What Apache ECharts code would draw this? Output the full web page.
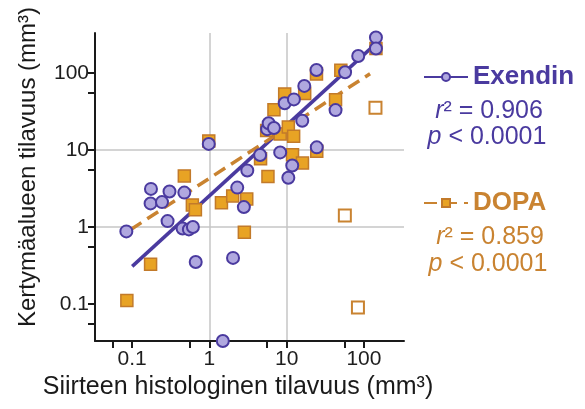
<!DOCTYPE html>
<html><head><meta charset="utf-8">
<script src="https://cdn.jsdelivr.net/npm/echarts@6/dist/echarts.min.js"></script>
<style>html,body{margin:0;padding:0;background:#fff}#c{width:585px;height:409px}</style>
</head><body><div id="c"></div>
<script>
// ---- data ----
const exendinX = [0.084, 0.175, 0.173, 0.243, 0.287, 0.304, 0.473, 0.449, 0.542, 0.611, 0.664, 0.98, 1.49, 2.02, 2.29, 2.79, 3.09, 4.53, 5.58, 5.84, 6.84, 8.24, 9.42, 10.5, 11.8, 12.4, 15.9, 16.9, 24.3, 24.5, 42.9, 57.0, 84.3, 143, 143];
const exendinY = [0.875, 3.12, 2.02, 2.10, 1.19, 2.89, 2.79, 0.956, 0.928, 1.0, 0.351, 11.97, 0.033, 0.396, 3.24, 1.81, 5.40, 8.61, 18.6, 22.2, 19.3, 9.28, 40.4, 4.35, 6.29, 45.3, 23.9, 67.8, 109, 10.8, 32.9, 102, 166, 289, 208];
const dopaX = [0.0853, 0.173, 0.473, 0.601, 0.658, 0.98, 1.43, 2.0, 2.83, 3.04, 4.59, 5.50, 5.72, 6.84, 8.24, 9.42, 10.5, 12.3, 11.9, 16.0, 17.1, 24.3, 24.5, 42.9, 50.2, 143];
const dopaY = [0.111, 0.328, 4.60, 1.93, 1.67, 13.1, 2.06, 2.53, 0.853, 2.30, 7.69, 17.9, 4.53, 33.3, 16.1, 53.4, 19.8, 15.1, 8.66, 6.74, 54.2, 97.0, 9.64, 45.0, 108, 208];
const dopaOutX = [141, 56.6, 83.6];
const dopaOutY = [35.3, 1.41, 0.090];
const exendinFitX = [0.1, 143];
const exendinFitY = [0.307, 240];
const dopaFitX = [0.095, 120];
const dopaFitY = [0.92, 97.7];
const majorTicks = [0.1, 1, 10, 100];
const minorTicks = [0.056, 0.56, 5.6, 56];
const axisMin = 0.033, axisMax = 330;
const seriesNames = ['Exendin', 'DOPA'];
const statsExendin = ['0.906', '0.0001'];
const statsDopa = ['0.859', '0.0001'];
const xTitle = 'Siirteen histologinen tilavuus (mm³)';
const yTitle = 'Kertymäalueen tilavuus (mm³)';

const zip = (a, b) => a.map((v, i) => [v, b[i]]);
const FONT = '"Liberation Sans", Arial, Helvetica, sans-serif';
const PURPLE = '#4a3a9f', PURPLE_FILL = '#b0a8df';
const ORANGE = '#c98331', ORANGE_FILL = '#e8a324', ORANGE_EDGE = '#c27a2a';
const AXIS = '#1a1a1a';

function mainAxis(extra) {
  return Object.assign({
    type: 'log', logBase: 10, min: axisMin, max: axisMax,
    axisLine: { show: true, onZero: false, lineStyle: { color: AXIS, width: 2 } },
    axisTick: { show: true, customValues: majorTicks.concat(minorTicks), length: 7, lineStyle: { color: AXIS, width: 2 } },
    axisLabel: { customValues: majorTicks, fontSize: 21, fontFamily: FONT, color: '#1e1e1e',
      formatter: v => String(+(+v).toPrecision(3)) },
    splitLine: { show: false }
  }, extra);
}
function gridAxis(extra) {
  return Object.assign({
    type: 'log', logBase: 10, min: axisMin, max: axisMax,
    axisLine: { show: false }, axisLabel: { show: false },
    axisTick: { show: false, customValues: majorTicks },
    splitLine: { show: true, showMinLine: false, showMaxLine: false, lineStyle: { color: '#c6c6c6', width: 1.5 } }
  }, extra);
}
function stat(prefix, rest, x, y, color) {
  return { type: 'text', x: x, y: y,
    style: { text: '{i|' + prefix + '}' + rest,
      rich: { i: { fontStyle: 'italic', fontSize: 25, fontFamily: FONT, fill: color } },
      fontSize: 25, fontFamily: FONT, fill: color, align: 'center', verticalAlign: 'middle' } };
}

const chart = echarts.init(document.getElementById('c'), null, { renderer: 'canvas' });
chart.setOption({
  animation: false,
  backgroundColor: '#fff',
  grid: { left: 95, right: 181, top: 33, bottom: 68 },
  xAxis: [mainAxis({ position: 'bottom', axisLabel: Object.assign({}, mainAxis().axisLabel, { margin: 8 }) }), gridAxis({ position: 'bottom' })],
  yAxis: [mainAxis({ position: 'left', axisLabel: Object.assign({}, mainAxis().axisLabel, { margin: 6 }) }), gridAxis({ position: 'left' })],
  legend: [
    { data: [{ name: seriesNames[0], textStyle: { color: PURPLE } }], left: 423, top: 64, padding: 0,
      itemWidth: 44, itemHeight: 10, itemGap: 6, selectedMode: false,
      textStyle: { fontSize: 26, fontWeight: 'bold', fontFamily: FONT } },
    { data: [{ name: seriesNames[1], textStyle: { color: ORANGE } }], left: 423, top: 190, padding: 0,
      itemWidth: 44, itemHeight: 10, itemGap: 6, selectedMode: false,
      textStyle: { fontSize: 26, fontWeight: 'bold', fontFamily: FONT } }
  ],
  series: [
    { name: seriesNames[0], type: 'line', data: zip(exendinFitX, exendinFitY), showSymbol: false,
      symbol: 'circle', symbolSize: 9, silent: true, z: 2,
      lineStyle: { color: PURPLE, width: 3.5 },
      itemStyle: { color: PURPLE_FILL, borderColor: PURPLE, borderWidth: 1.5 } },
    { name: seriesNames[1], type: 'line', data: zip(dopaFitX, dopaFitY), showSymbol: false,
      symbol: 'rect', symbolSize: 9, silent: true, z: 2,
      lineStyle: { color: ORANGE, width: 3.5, type: [13, 7] },
      itemStyle: { color: ORANGE_FILL, borderColor: ORANGE_EDGE, borderWidth: 1.5 } },
    { name: seriesNames[1], type: 'scatter', data: zip(dopaX, dopaY), symbol: 'rect', symbolSize: 12,
      clip: false, z: 3, itemStyle: { color: ORANGE_FILL, borderColor: ORANGE_EDGE, borderWidth: 1.5, opacity: 1 } },
    { name: 'DOPA (outliers)', type: 'scatter', data: zip(dopaOutX, dopaOutY), symbol: 'rect', symbolSize: 12,
      clip: false, z: 3, itemStyle: { color: '#fff', borderColor: ORANGE, borderWidth: 2, opacity: 1 } },
    { name: seriesNames[0], type: 'scatter', data: zip(exendinX, exendinY), symbol: 'circle', symbolSize: 12,
      clip: false, z: 4, itemStyle: { color: PURPLE_FILL, borderColor: PURPLE, borderWidth: 2, opacity: 1 } }
  ],
  graphic: [
    { type: 'text', x: 28, y: 167, rotation: Math.PI / 2,
      style: { text: yTitle, fontSize: 24, fontFamily: FONT, fill: AXIS, align: 'center', verticalAlign: 'middle' } },
    { type: 'text', x: 238, y: 387,
      style: { text: xTitle, fontSize: 25, fontFamily: FONT, fill: AXIS, align: 'center', verticalAlign: 'middle' } },
    stat('r', '² = ' + statsExendin[0], 489, 111, PURPLE),
    stat('p', ' < ' + statsExendin[1], 487, 137, PURPLE),
    stat('r', '² = ' + statsDopa[0], 490, 237, ORANGE),
    stat('p', ' < ' + statsDopa[1], 488, 264, ORANGE)
  ]
});
</script></body></html>
